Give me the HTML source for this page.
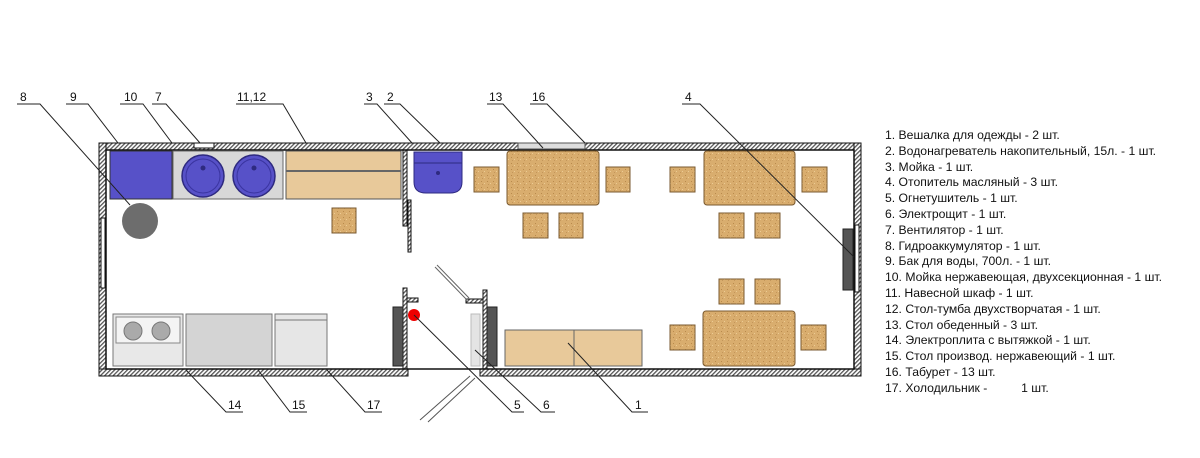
<!DOCTYPE html>
<html><head><meta charset="utf-8"><style>
html,body{margin:0;padding:0;background:#fff;}
svg{display:block;}
text{font-family:"Liberation Sans",sans-serif;}
</style></head><body>
<svg width="1200" height="458" viewBox="0 0 1200 458" xmlns="http://www.w3.org/2000/svg">
<defs>
<pattern id="h" width="3" height="3" patternUnits="userSpaceOnUse" patternTransform="rotate(45)">
<rect width="3" height="3" fill="#fff"/><rect width="1.3" height="3" fill="#555"/></pattern>
<pattern id="cork" width="6" height="6" patternUnits="userSpaceOnUse">
<rect width="6" height="6" fill="#d9ad6e"/><rect x="1" y="1" width="1" height="1" fill="#b98a4c"/><rect x="4" y="3" width="1" height="1" fill="#eccb94"/><rect x="2" y="4" width="1" height="1" fill="#c4965a"/></pattern>
</defs>
<!-- walls -->
<g fill="url(#h)" stroke="#111" stroke-width="1">
<rect x="99" y="143" width="762" height="7"/>
<rect x="99" y="143" width="7" height="233"/>
<rect x="854" y="143" width="7" height="233"/>
<rect x="99" y="369" width="309" height="7"/>
<rect x="480" y="369" width="381" height="7"/>
<rect x="403" y="150" width="4" height="76"/>
<rect x="408" y="200" width="3" height="52"/>
<rect x="403" y="288" width="4" height="81"/>
<rect x="407" y="298" width="11" height="4"/>
<rect x="483" y="290" width="4" height="79"/>
<rect x="466" y="299" width="17" height="4"/>
</g>
<rect x="106" y="150" width="748" height="219" fill="none" stroke="#111" stroke-width="1.5"/>
<!-- windows -->
<rect x="101" y="218" width="4" height="70" fill="#fff" stroke="#111"/>
<rect x="194" y="143" width="20" height="5" fill="#fff" stroke="#111"/>
<rect x="518" y="143" width="67" height="6" fill="#ddd" stroke="#555"/>
<rect x="855" y="225" width="4" height="67" fill="#fff" stroke="#111"/>
<!-- kitchen top -->
<rect x="110" y="151" width="62" height="48" fill="#5751c8" stroke="#333"/>
<rect x="173" y="151" width="110" height="48" fill="#d8d8d8" stroke="#666"/>
<circle cx="203" cy="176" r="21" fill="#5751c8" stroke="#2e2a80" stroke-width="1.5"/>
<circle cx="254" cy="176" r="21" fill="#5751c8" stroke="#2e2a80" stroke-width="1.5"/>
<circle cx="203" cy="176" r="17" fill="none" stroke="#3a34a0"/>
<circle cx="254" cy="176" r="17" fill="none" stroke="#3a34a0"/>
<circle cx="203" cy="168" r="2.5" fill="#2e2a80"/><circle cx="254" cy="168" r="2.5" fill="#2e2a80"/>
<rect x="286" y="151" width="115" height="48" fill="#e8c99a" stroke="#555"/>
<line x1="286" y1="171" x2="401" y2="171" stroke="#666" stroke-width="2"/>
<circle cx="140" cy="221" r="18" fill="#6d6d6d"/>
<!-- basin -->
<path d="M414 152h48v30q0 11-12 11h-24q-12 0-12-11z" fill="#5751c8" stroke="#2e2a80"/>
<line x1="414" y1="163" x2="462" y2="163" stroke="#2e2a80"/>
<circle cx="438" cy="173" r="2" fill="#2e2a80"/>
<!-- tables -->
<g fill="url(#cork)" stroke="#7a5a30" stroke-width="1">
<rect x="507" y="151" width="92" height="54" rx="3"/>
<rect x="704" y="151" width="91" height="54" rx="3"/>
<rect x="703" y="311" width="92" height="55" rx="3"/>
<rect x="332" y="208" width="24" height="25"/>
<rect x="474" y="167" width="25" height="25"/>
<rect x="606" y="167" width="24" height="25"/>
<rect x="523" y="213" width="25" height="25"/>
<rect x="559" y="213" width="24" height="25"/>
<rect x="670" y="167" width="25" height="25"/>
<rect x="802" y="167" width="25" height="25"/>
<rect x="719" y="213" width="25" height="25"/>
<rect x="755" y="213" width="25" height="25"/>
<rect x="719" y="279" width="25" height="25"/>
<rect x="755" y="279" width="25" height="25"/>
<rect x="670" y="325" width="25" height="25"/>
<rect x="801" y="325" width="25" height="25"/>
</g>
<rect x="505" y="330" width="137" height="36" fill="#e8c99a" stroke="#666"/>
<line x1="574" y1="330" x2="574" y2="366" stroke="#666"/>
<!-- heater -->
<rect x="843" y="229" width="10" height="61" fill="#555" stroke="#222"/>
<!-- bottom kitchen -->
<rect x="113" y="314" width="70" height="52" fill="#e8e8e8" stroke="#777"/>
<rect x="116" y="317" width="64" height="26" fill="#f4f4f4" stroke="#888"/>
<circle cx="133" cy="331" r="9" fill="#aaa" stroke="#777"/>
<circle cx="161" cy="331" r="9" fill="#aaa" stroke="#777"/>
<rect x="186" y="314" width="86" height="52" fill="#d4d4d4" stroke="#777"/>
<rect x="275" y="314" width="52" height="52" fill="#e6e6e6" stroke="#777"/>
<line x1="275" y1="320" x2="327" y2="320" stroke="#777"/>
<!-- door area -->
<rect x="393" y="307" width="10" height="59" fill="#555" stroke="#222"/>
<rect x="487" y="307" width="10" height="59" fill="#555" stroke="#222"/>
<rect x="471" y="314" width="9" height="52" fill="#e4e4e4" stroke="#bbb"/>
<circle cx="414" cy="315" r="6" fill="#e00"/>
<path d="M435 267L467 300M437 265L469 298" stroke="#666" fill="none"/>
<path d="M470 376L420 420M475 378L428 422" stroke="#555" fill="none"/>
<!-- leaders -->
<g stroke="#222" stroke-width="1" fill="none">
<path d="M17 104H40L130 205"/>
<path d="M66 104H88L118 143"/>
<path d="M120 104H143L172 143"/>
<path d="M152 104H166L200 143"/>
<path d="M236 104H283L306 143"/>
<path d="M364 104H377L412 143"/>
<path d="M384 104H400L440 143"/>
<path d="M487 104H503L543 148"/>
<path d="M530 104H547L585 143"/>
<path d="M682 104H700L854 257"/>
<path d="M243 412H226L186 370"/>
<path d="M307 412H290L258 370"/>
<path d="M382 412H365L327 370"/>
<path d="M524 412H512L414 315"/>
<path d="M555 412H541L475 350"/>
<path d="M648 412H632L568 343"/>
</g>
<g font-size="12" fill="#111">
<text x="20" y="101">8</text><text x="70" y="101">9</text><text x="124" y="101">10</text>
<text x="155" y="101">7</text><text x="237" y="101">11,12</text><text x="366" y="101">3</text>
<text x="387" y="101">2</text><text x="489" y="101">13</text><text x="532" y="101">16</text>
<text x="685" y="101">4</text>
<text x="228" y="409">14</text><text x="292" y="409">15</text><text x="367" y="409">17</text>
<text x="514" y="409">5</text><text x="543" y="409">6</text><text x="635" y="409">1</text>
</g>
<g font-size="12.2" fill="#111">
<text x="885" y="139">1. Вешалка для одежды - 2 шт.</text>
<text x="885" y="155">2. Водонагреватель накопительный, 15л. - 1 шт.</text>
<text x="885" y="171">3. Мойка - 1 шт.</text>
<text x="885" y="186">4. Отопитель масляный - 3 шт.</text>
<text x="885" y="202">5. Огнетушитель - 1 шт.</text>
<text x="885" y="218">6. Электрощит - 1 шт.</text>
<text x="885" y="234">7. Вентилятор - 1 шт.</text>
<text x="885" y="250">8. Гидроаккумулятор - 1 шт.</text>
<text x="885" y="265">9. Бак для воды, 700л. - 1 шт.</text>
<text x="885" y="281">10. Мойка нержавеющая, двухсекционная - 1 шт.</text>
<text x="885" y="297">11. Навесной шкаф - 1 шт.</text>
<text x="885" y="313">12. Стол-тумба двухстворчатая - 1 шт.</text>
<text x="885" y="329">13. Стол обеденный - 3 шт.</text>
<text x="885" y="344">14. Электроплита с вытяжкой - 1 шт.</text>
<text x="885" y="360">15. Стол производ. нержавеющий - 1 шт.</text>
<text x="885" y="376">16. Табурет - 13 шт.</text>
<text x="885" y="392">17. Холодильник -&#160;&#160;&#160;&#160;&#160;&#160;&#160;&#160;&#160;&#160;1 шт.</text>
</g>
</svg>
</body></html>
